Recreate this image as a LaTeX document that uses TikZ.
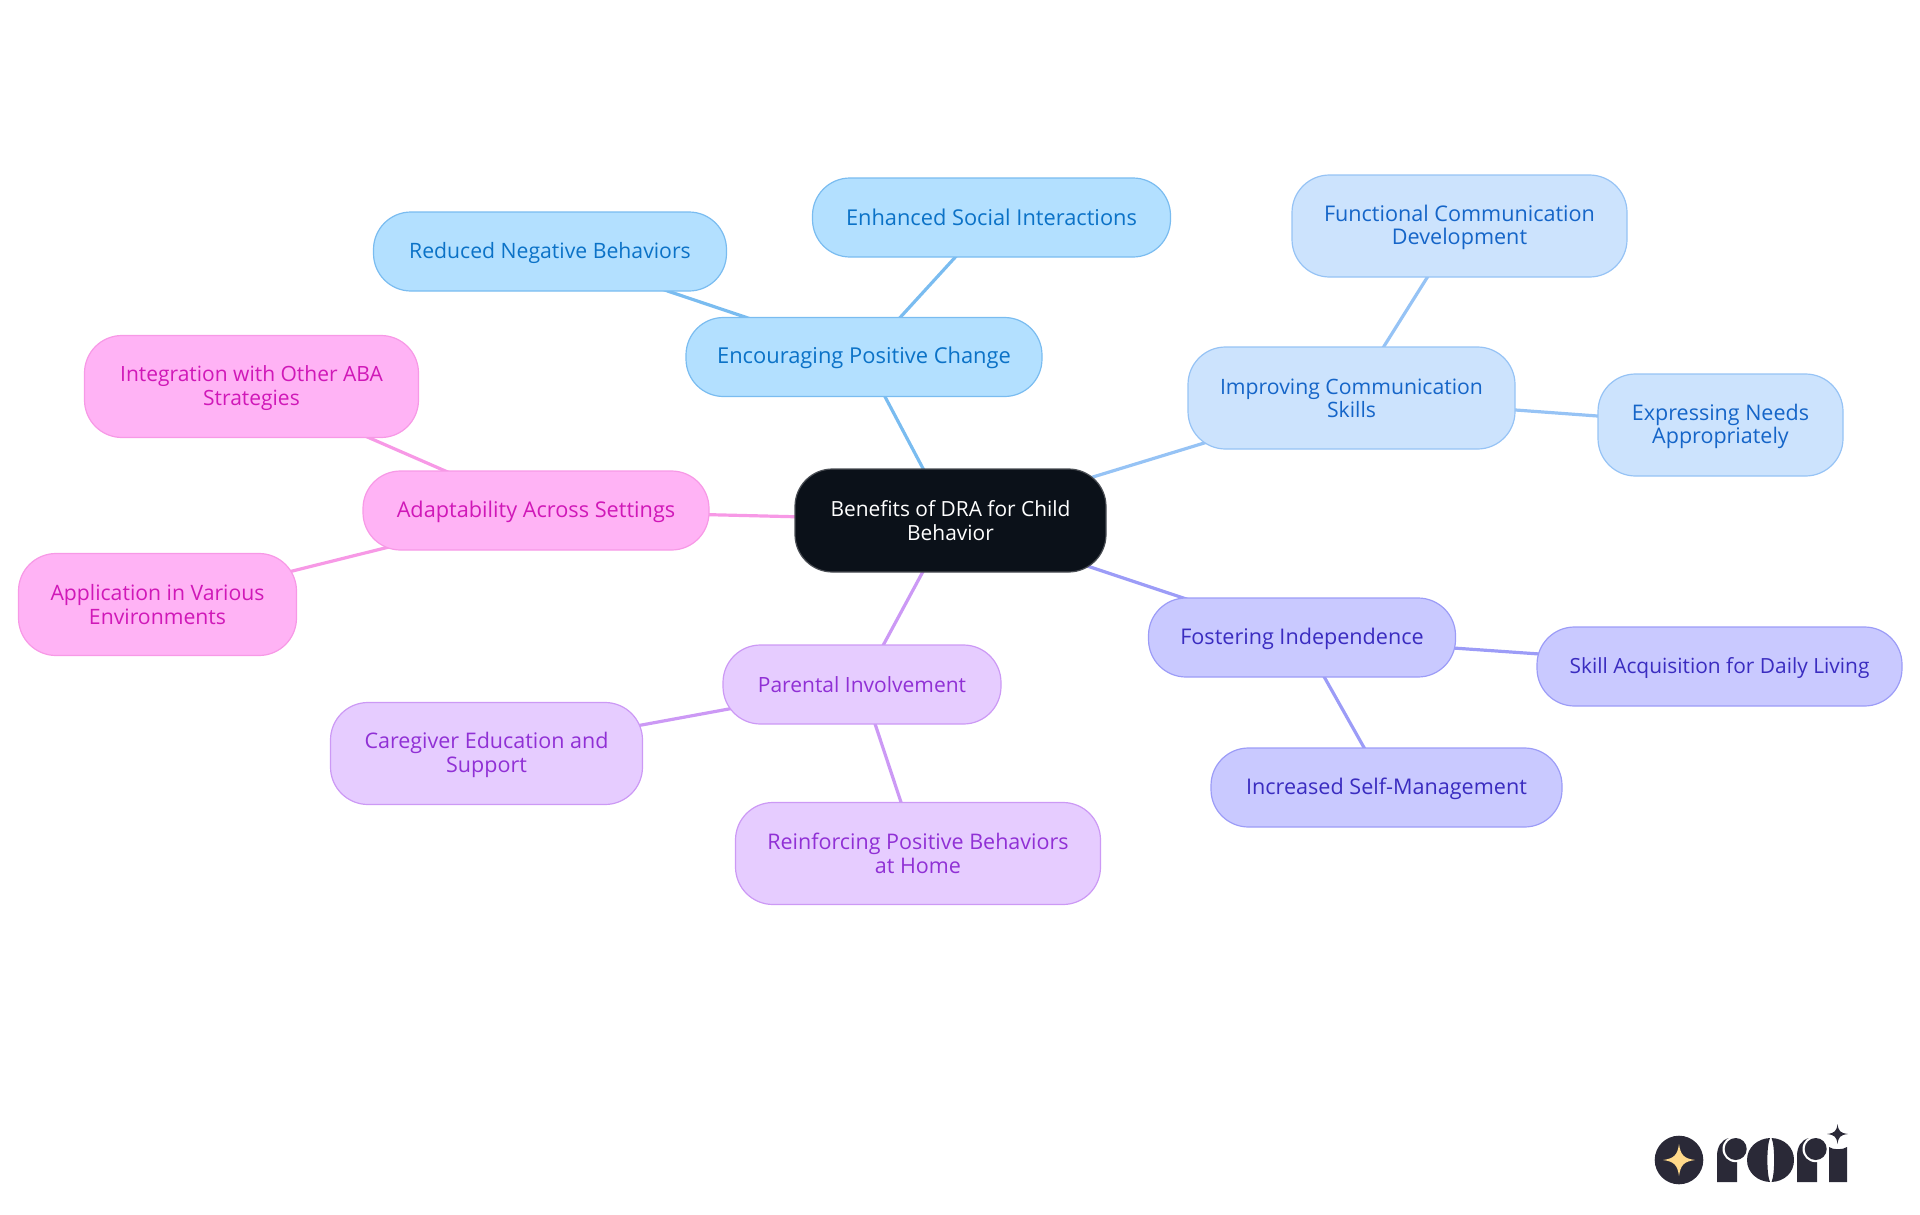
\documentclass[tikz,border=0pt]{standalone}
\usepackage{fontspec}
\setmainfont{Open Sans}
\usetikzlibrary{backgrounds}
\definecolor{bluefill}{HTML}{B3E0FF}\definecolor{bluestroke}{HTML}{7ABCF0}\definecolor{bluetext}{HTML}{0B72C7}
\definecolor{skyfill}{HTML}{CCE3FD}\definecolor{skystroke}{HTML}{96C3F5}\definecolor{skytext}{HTML}{1565C8}
\definecolor{indfill}{HTML}{C9C9FF}\definecolor{indstroke}{HTML}{9C9CF7}\definecolor{indtext}{HTML}{3A2CC0}
\definecolor{purfill}{HTML}{E6CCFF}\definecolor{purstroke}{HTML}{CC99F5}\definecolor{purtext}{HTML}{9030D5}
\definecolor{pinkfill}{HTML}{FFB3F5}\definecolor{pinkstroke}{HTML}{F799E6}\definecolor{pinktext}{HTML}{D018B8}
\definecolor{rootfill}{HTML}{0B1119}\definecolor{rootstroke}{HTML}{4A4E54}
\definecolor{logodark}{HTML}{2A2937}\definecolor{logostar}{HTML}{FFD98A}
\newcommand{\firstline}{\rule{0pt}{19.5pt}}
\tikzset{
 mm/.style={rectangle,rounded corners=37.5pt,line width=1.2pt,inner sep=0pt,align=center,
   execute at begin node={\rule{0pt}{19pt}},execute at end node={\rule[-4pt]{0pt}{4pt}}},
 rootnode/.style={mm,fill=rootfill,draw=rootstroke,text=white},
 bluenode/.style={mm,fill=bluefill,draw=bluestroke,text=bluetext},
 skynode/.style={mm,fill=skyfill,draw=skystroke,text=skytext},
 indnode/.style={mm,fill=indfill,draw=indstroke,text=indtext},
 purnode/.style={mm,fill=purfill,draw=purstroke,text=purtext},
 pinknode/.style={mm,fill=pinkfill,draw=pinkstroke,text=pinktext},
 link/.style={line width=3.2pt},
 sz/.style n args={3}{minimum width=#1pt,minimum height=#2pt,font=\fontsize{#3}{23.5}\selectfont}
}
\begin{document}
\begin{tikzpicture}[x=1pt,y=-1pt]
\useasboundingbox (0,0) rectangle (1920,1215);
\node[rootnode,sz={311}{103}{20.9}] (root) at (950.5,520.5) {\firstline Benefits of DRA for Child\\Behavior};
\node[bluenode,sz={356}{79}{21.9}] (enc) at (864,357) {Encouraging Positive Change};
\node[bluenode,sz={353}{79}{21.2}] (red) at (550,251.5) {Reduced Negative Behaviors};
\node[bluenode,sz={358}{79}{21.8}] (enh) at (991.5,217.5) {Enhanced Social Interactions};
\node[skynode,sz={327}{102}{21.2}] (imp) at (1351.5,398) {\firstline Improving Communication\\Skills};
\node[skynode,sz={335}{102}{21.6}] (fun) at (1459.5,226) {\firstline Functional Communication\\Development};
\node[skynode,sz={245}{102}{21.5}] (exp) at (1720.5,425) {\firstline Expressing Needs\\Appropriately};
\node[indnode,sz={307}{79}{21.6}] (fos) at (1302,637.5) {Fostering Independence};
\node[indnode,sz={365}{79}{20.9}] (ski) at (1719.5,666.5) {Skill Acquisition for Daily Living};
\node[indnode,sz={351}{79}{21.6}] (inc) at (1386.5,787.5) {Increased Self-Management};
\node[purnode,sz={278}{79}{21.0}] (par) at (862,684.5) {Parental Involvement};
\node[purnode,sz={312}{102}{21.5}] (car) at (486.5,753.5) {\firstline Caregiver Education and\\Support};
\node[purnode,sz={365}{102}{21.5}] (rei) at (918,853.5) {\firstline Reinforcing Positive Behaviors\\at Home};
\node[pinknode,sz={346}{79}{21.7}] (ada) at (536,510.5) {Adaptability Across Settings};
\node[pinknode,sz={334}{102}{21.0}] (int) at (251.5,386.5) {\firstline Integration with Other ABA\\Strategies};
\node[pinknode,sz={278}{102}{21.2}] (app) at (157.5,604.5) {\firstline Application in Various\\Environments};
\begin{scope}[on background layer]
\draw[link,bluestroke] (root.center)--(enc.center);
\draw[link,bluestroke] (enc.center)--(red.center);
\draw[link,bluestroke] (enc.center)--(enh.center);
\draw[link,skystroke] (root.center)--(imp.center);
\draw[link,skystroke] (imp.center)--(fun.center);
\draw[link,skystroke] (imp.center)--(exp.center);
\draw[link,indstroke] (root.center)--(fos.center);
\draw[link,indstroke] (fos.center)--(ski.center);
\draw[link,indstroke] (fos.center)--(inc.center);
\draw[link,purstroke] (root.center)--(par.center);
\draw[link,purstroke] (par.center)--(car.center);
\draw[link,purstroke] (par.center)--(rei.center);
\draw[link,pinkstroke] (root.center)--(ada.center);
\draw[link,pinkstroke] (ada.center)--(int.center);
\draw[link,pinkstroke] (ada.center)--(app.center);
\end{scope}
% logo
\fill[logodark] (1679,1160) circle (24.3);
\fill[logostar] (1679,1144) .. controls (1680.5,1155) and (1684,1158.5) .. (1695,1160)
  .. controls (1684,1161.5) and (1680.5,1165) .. (1679,1176)
  .. controls (1677.5,1165) and (1674,1161.5) .. (1663,1160)
  .. controls (1674,1158.5) and (1677.5,1155) .. (1679,1144) -- cycle;
% r
\fill[logodark] (1717,1182) -- (1717,1156) .. controls (1717,1147) and (1721,1140) .. (1729,1138) -- (1737,1140) -- (1737,1182) -- cycle;
\fill[white] (1735.7,1149) circle (13.2);
\fill[logodark] (1735.7,1149) circle (11);
% o
\fill[logodark] (1770,1138) .. controls (1758,1138.5) and (1747,1147) .. (1747,1160) .. controls (1747,1173) and (1758,1181.5) .. (1770,1182)
  .. controls (1766.5,1175) and (1766.5,1145) .. (1770,1138) -- cycle;
\fill[logodark] (1771.5,1138) .. controls (1784,1138.5) and (1794,1147) .. (1794,1160) .. controls (1794,1173) and (1784,1181.5) .. (1771.5,1182)
  .. controls (1775,1175) and (1775,1145) .. (1771.5,1138) -- cycle;
% r
\fill[logodark] (1797,1182) -- (1797,1156) .. controls (1797,1147) and (1801,1140) .. (1809,1138) -- (1817,1140) -- (1817,1182) -- cycle;
\fill[white] (1815.7,1149) circle (13.2);
\fill[logodark] (1815.7,1149) circle (11);
% i
\fill[logodark] (1829,1182) -- (1829,1147) .. controls (1833,1150) and (1843,1150) .. (1847,1147) -- (1847,1182) -- cycle;
\fill[logodark] (1837.5,1124) .. controls (1838.5,1131) and (1840,1133) .. (1848,1134)
  .. controls (1840,1135) and (1838.5,1137) .. (1837.5,1144)
  .. controls (1836.5,1137) and (1835,1135) .. (1827,1134)
  .. controls (1835,1133) and (1836.5,1131) .. (1837.5,1124) -- cycle;
\end{tikzpicture}
\end{document}
